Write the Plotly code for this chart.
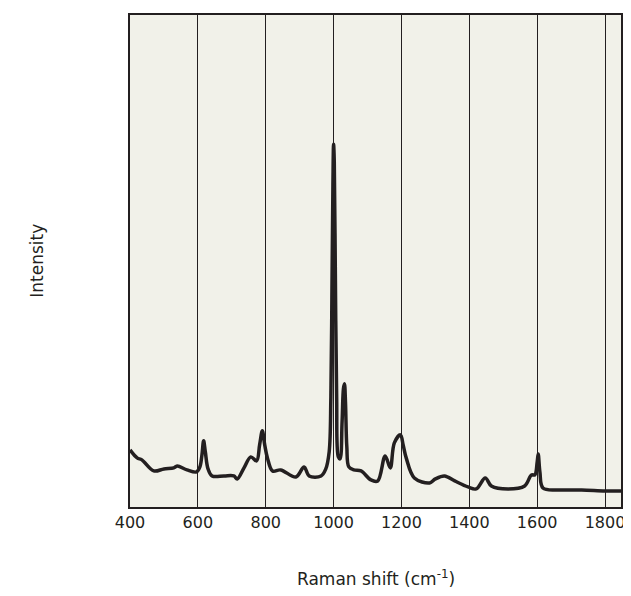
import plotly.graph_objects as go

# Raman spectrum (arbitrary intensity units)
shift = [400, 421, 435, 470, 500, 529, 539, 568, 596, 606, 612, 617, 622, 630, 642,
         677, 706, 716, 736, 756, 773, 782, 790, 797, 805, 820, 844, 889, 913, 928,
         963, 977, 987, 992, 995, 998, 1000, 1002, 1005, 1009, 1014, 1019, 1025,
         1029, 1032, 1035, 1039, 1045, 1060, 1081, 1110, 1130, 1152, 1167, 1179,
         1197, 1205, 1214, 1238, 1283, 1300, 1327, 1357, 1396, 1420, 1447, 1465,
         1514, 1563, 1583, 1593, 1600, 1603, 1608, 1617, 1662, 1731, 1800, 1847]
intensity = [57, 49, 47, 36, 38, 39, 41, 37, 35, 40, 52, 66, 55, 38, 31,
             31, 31, 28, 39, 50, 46, 62, 76, 62, 49, 36, 37, 30, 40, 31,
             31, 38, 55, 110, 210, 320, 362, 345, 240, 110, 50, 48, 85,
             118, 123, 105, 60, 40, 37, 36, 27, 26, 51, 39, 64,
             72, 62, 49, 29, 24, 28, 31, 26, 20, 18, 29, 21,
             18, 21, 32, 32, 45, 53, 35, 19, 17, 17, 16, 16]

tick_vals = [400, 600, 800, 1000, 1200, 1400, 1600, 1800]

fig = go.Figure()
fig.add_scatter(x=shift, y=intensity, mode="lines", line_shape="spline",
                line=dict(color="#231f20", width=3.5), showlegend=False)

fig.update_layout(
    width=631, height=596,
    margin=dict(l=122, r=18, t=7, b=97),
    paper_bgcolor="white", plot_bgcolor="#f1f1e9",
    font=dict(family="DejaVu Sans", size=16, color="#231f20"),
)
fig.update_xaxes(range=[400, 1847], tickvals=tick_vals, showgrid=True,
                 gridcolor="#231f20", gridwidth=1, showline=True, mirror=True,
                 linecolor="#231f20", linewidth=2, ticks="", zeroline=False,
                 automargin=False)
fig.update_yaxes(range=[0, 491], showticklabels=False, showgrid=False,
                 showline=True, mirror=True, linecolor="#231f20", linewidth=2,
                 ticks="", zeroline=False, automargin=False)

fig.add_annotation(text="Raman shift (cm<sup>-1</sup>)", xref="paper", yref="paper",
                   x=0.5, y=-0.145, yanchor="middle", showarrow=False,
                   font=dict(size=17))
fig.add_annotation(text="Intensity", xref="paper", yref="paper",
                   x=-0.19, y=0.5, textangle=-90, xanchor="center",
                   showarrow=False, font=dict(size=17))

fig.write_html("out.html")
